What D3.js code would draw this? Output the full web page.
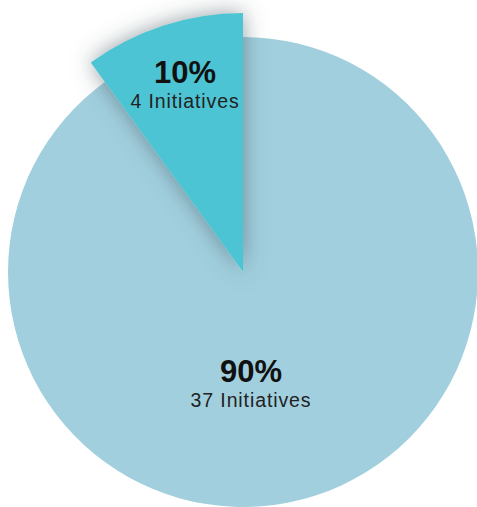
<!DOCTYPE html>
<html><head><meta charset="utf-8">
<script src="https://cdn.jsdelivr.net/npm/d3@7/dist/d3.min.js"></script>
<style>html,body{margin:0;padding:0;background:#fff;}svg{display:block;}</style>
</head><body>
<svg id="chart" width="477" height="507"></svg>
<script>
const categories = ["Small", "Large"];
const percents = [10, 90];
const counts = [4, 37];
const percentLabels = ["10%", "90%"];
const subLabels = ["4 Initiatives", "37 Initiatives"];
const colors = ["#4EC4D3", "#A1CFDE"];

const W = 477, H = 507;
const cx = 243, cy = 272;
const rBase = 235, rPop = 259;
const svg = d3.select("#chart");
const defs = svg.append("defs");
const f = defs.append("filter").attr("id","sh").attr("x","-50%").attr("y","-50%").attr("width","200%").attr("height","200%");
f.append("feDropShadow").attr("dx",0).attr("dy",0).attr("stdDeviation",11).attr("flood-color","#4a5a63").attr("flood-opacity",0.6);

const total = d3.sum(percents);
const start = -2*Math.PI*percents[0]/total;
const pie = d3.pie().sort(null).startAngle(start).endAngle(start + 2*Math.PI);
const arcs = pie(percents);

const g = svg.append("g").attr("transform",`translate(${cx},${cy})`);
const arcLarge = d3.arc().innerRadius(0).outerRadius(rBase);
const arcSmall = d3.arc().innerRadius(0).outerRadius(rPop);

g.append("path").attr("d", arcLarge(arcs[1])).attr("fill", colors[1]);
g.append("path").attr("d", arcSmall(arcs[0])).attr("fill", colors[0]).attr("filter","url(#sh)");

const labelPos = [[-58, -189], [8, 110]];
arcs.forEach((a,i)=>{
  const t = g.append("text").attr("text-anchor","middle").attr("font-family","'Liberation Sans', Arial, Helvetica, sans-serif").attr("fill","#111");
  t.append("tspan").attr("x",labelPos[i][0]).attr("y",labelPos[i][1]).attr("font-size",31).attr("font-weight","bold").text(percentLabels[i]);
  t.append("tspan").attr("x",labelPos[i][0]).attr("y",labelPos[i][1]+25).attr("font-size",19.5).attr("letter-spacing",0.9).attr("fill","#222").text(subLabels[i]);
});
</script>
</body></html>
